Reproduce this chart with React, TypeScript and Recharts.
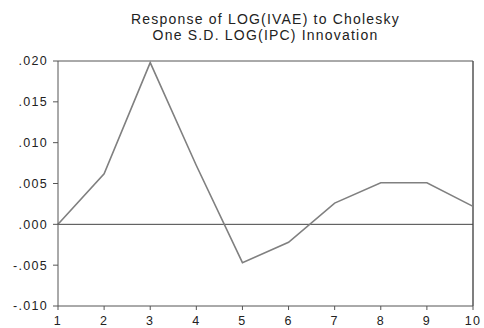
import React from "react";
import { LineChart, Line, XAxis, YAxis, ReferenceLine } from "recharts";

const periods = [1, 2, 3, 4, 5, 6, 7, 8, 9, 10];
const response = [0.0, 0.0062, 0.0198, 0.0072, -0.0047, -0.0022, 0.0026, 0.0051, 0.0051, 0.0022];
const yTicks = [-0.01, -0.005, 0, 0.005, 0.01, 0.015, 0.02];
const titleLines = ["Response of LOG(IVAE) to Cholesky", "One S.D. LOG(IPC) Innovation"];

const data = periods.map((p, i) => ({ period: p, value: response[i] }));

const fmt = (v: number) => {
  const s = Math.abs(v).toFixed(3).replace(/^0/, "");
  return v < 0 ? "-" + s : s;
};

const tickStyle = {
  fill: "#222",
  fontSize: 12.5,
  fontFamily: "Liberation Sans, Arial, sans-serif",
  letterSpacing: 1.3,
};

export default function App() {
  return (
    <div style={{ position: "absolute", left: 0, top: 0, width: 484, height: 328, background: "#fff" }}>
      <div
        style={{
          position: "absolute",
          left: 58,
          width: 415,
          top: 11,
          textAlign: "center",
          fontFamily: "Liberation Sans, Arial, sans-serif",
          fontSize: 14,
          lineHeight: "16px",
          letterSpacing: 1.2,
          color: "#222",
        }}
      >
        {titleLines.map((t, i) => (
          <div key={i}>{t}</div>
        ))}
      </div>
      <LineChart width={484} height={328} data={data} margin={{ top: 61, right: 11, bottom: 0, left: 0 }}>
        <XAxis
          dataKey="period"
          type="number"
          domain={[1, 10]}
          ticks={periods}
          tick={tickStyle}
          tickSize={4}
          tickMargin={6}
          height={22}
          stroke="#555"
          tickLine={{ stroke: "#555" }}
        />
        <YAxis
          domain={[-0.01, 0.02]}
          ticks={yTicks}
          tickFormatter={fmt}
          tick={tickStyle}
          tickSize={5}
          tickMargin={5}
          width={58}
          stroke="#555"
          interval={0}
        />
        <ReferenceLine y={0.02} stroke="#555" strokeWidth={1} />
        <ReferenceLine x={10} stroke="#555" strokeWidth={1.5} />
        <ReferenceLine y={0} stroke="#444" strokeWidth={1} />
        <Line
          type="linear"
          dataKey="value"
          stroke="#808080"
          strokeWidth={1.6}
          dot={false}
          isAnimationActive={false}
        />
      </LineChart>
    </div>
  );
}
